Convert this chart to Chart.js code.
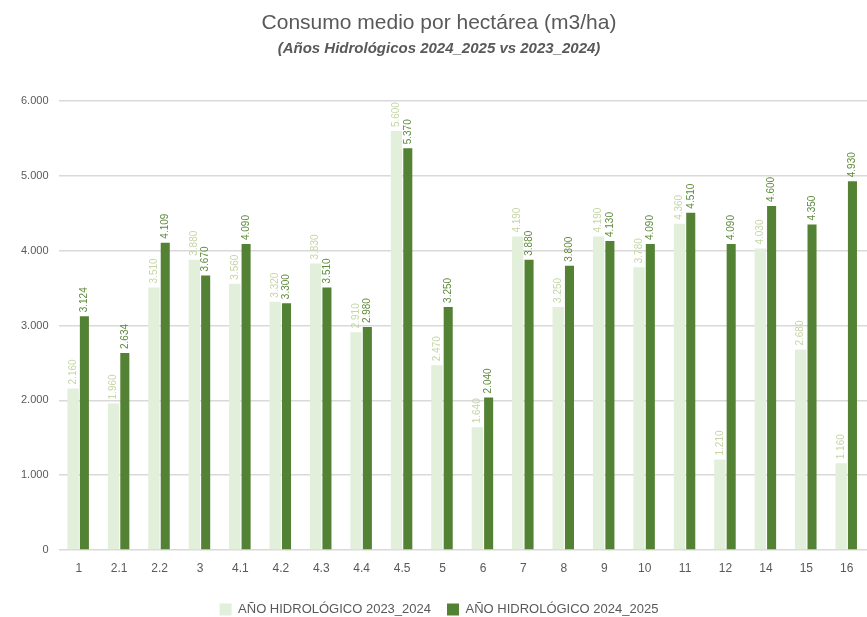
<!DOCTYPE html>
<html>
<head>
<meta charset="utf-8">
<script src="https://cdn.jsdelivr.net/npm/chart.js@4"></script>
<style>
  html, body { margin: 0; padding: 0; background: #ffffff; }
  #wrap { width: 867px; height: 617px; }
</style>
</head>
<body>
<div id="wrap"><canvas id="grafico"></canvas></div>
<script>
// datos (m3/ha)
const sectores = ['1', '2.1', '2.2', '3', '4.1', '4.2', '4.3', '4.4', '4.5', '5',
                  '6', '7', '8', '9', '10', '11', '12', '14', '15', '16'];
const consumo2023_2024 = [2160, 1960, 3510, 3880, 3560, 3320, 3830, 2910, 5600, 2470,
                          1640, 4190, 3250, 4190, 3780, 4360, 1210, 4030, 2680, 1160];
const consumo2024_2025 = [3124, 2634, 4109, 3670, 4090, 3300, 3510, 2980, 5370, 3250,
                          2040, 3880, 3800, 4130, 4090, 4510, 4090, 4600, 4350, 4930];
const ticksY = [0, 1000, 2000, 3000, 4000, 5000, 6000];

// formato con punto de miles
function miles(v) {
  return String(Math.round(v)).replace(/\B(?=(\d{3})+(?!\d))/g, '.');
}

// etiquetas verticales encima de cada barra
const etiquetasBarras = {
  id: 'etiquetasBarras',
  afterDatasetsDraw(chart) {
    const ctx = chart.ctx;
    chart.data.datasets.forEach(function (ds, i) {
      const meta = chart.getDatasetMeta(i);
      ctx.save();
      ctx.font = '10px "Liberation Sans", Arial, sans-serif';
      ctx.fillStyle = i === 0 ? '#c5d6a4' : '#5e8a3c';
      ctx.textAlign = 'left';
      ctx.textBaseline = 'middle';
      meta.data.forEach(function (bar, j) {
        ctx.save();
        ctx.translate(bar.x, bar.y - 4);
        ctx.rotate(-Math.PI / 2);
        ctx.fillText(miles(ds.data[j]), 0, 0);
        ctx.restore();
      });
      ctx.restore();
    });
  }
};

new Chart(document.getElementById('grafico'), {
  type: 'bar',
  data: {
    labels: sectores,
    datasets: [{
      label: 'AÑO HIDROLÓGICO 2023_2024',
      data: consumo2023_2024,
      backgroundColor: '#e2efda',
      categoryPercentage: 0.56,
      barPercentage: 1.0
    }, {
      label: 'AÑO HIDROLÓGICO 2024_2025',
      data: consumo2024_2025,
      backgroundColor: '#548235',
      categoryPercentage: 0.56,
      barPercentage: 0.8
    }]
  },
  options: {
    responsive: true,
    maintainAspectRatio: false,
    animation: false,
    layout: { padding: { left: 11, right: 0, top: 9, bottom: -9 } },
    plugins: {
      title: {
        display: true,
        text: 'Consumo medio por hectárea (m3/ha)',
        color: '#595959',
        font: { family: '"Liberation Sans", Arial, sans-serif', size: 21, weight: 'normal' },
        padding: { top: 2, bottom: 4 }
      },
      subtitle: {
        display: true,
        text: '(Años Hidrológicos 2024_2025 vs 2023_2024)',
        color: '#595959',
        font: { family: '"Liberation Sans", Arial, sans-serif', size: 15, weight: 'bold', style: 'italic' },
        padding: { bottom: 43 }
      },
      legend: {
        position: 'bottom',
        labels: {
          color: '#595959',
          boxWidth: 12,
          boxHeight: 12,
          padding: 16,
          font: { family: '"Liberation Sans", Arial, sans-serif', size: 13 }
        }
      },
      tooltip: { enabled: false }
    },
    scales: {
      x: {
        grid: { display: false },
        border: { display: false },
        afterFit: function (axis) { axis.height = 37; },
        ticks: {
          color: '#595959',
          font: { family: '"Liberation Sans", Arial, sans-serif', size: 12 },
          padding: 3
        }
      },
      y: {
        min: 0,
        max: 6000,
        afterBuildTicks(axis) {
          axis.ticks = ticksY.map(function (v) { return { value: v }; });
        },
        grid: { color: '#d9d9d9', lineWidth: 1.5, drawTicks: false },
        border: { display: false },
        ticks: {
          color: '#595959',
          font: { family: '"Liberation Sans", Arial, sans-serif', size: 11 },
          padding: 10,
          callback: function (v) { return miles(v); }
        }
      }
    }
  },
  plugins: [etiquetasBarras]
});
</script>
</body>
</html>
